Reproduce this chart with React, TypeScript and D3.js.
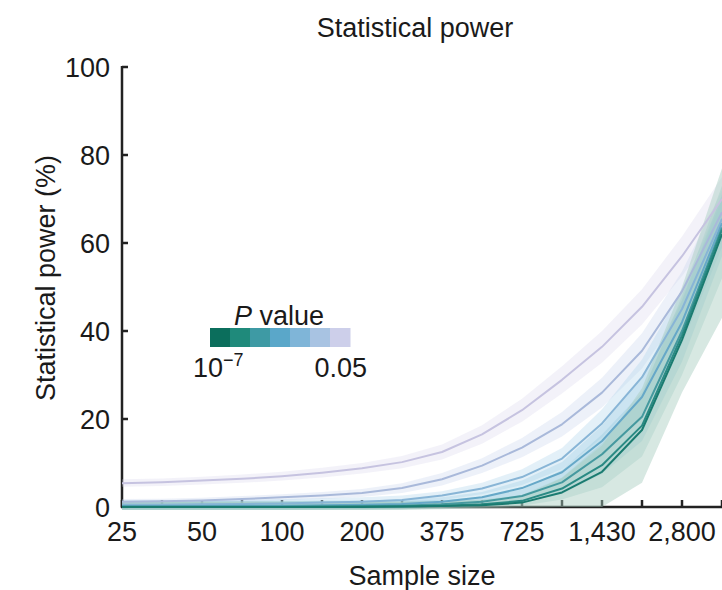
import React from 'react';
import * as d3 from 'd3';

const sampleSizes = [25, 35, 50, 70, 100, 140, 200, 280, 375, 525, 725, 1000, 1430, 2000, 2800, 4000];
const xTickValues = [25, 50, 100, 200, 375, 725, 1430, 2800];
const xTickLabels = ['25', '50', '100', '200', '375', '725', '1,430', '2,800'];
const yTicks = [0, 20, 40, 60, 80, 100];

const pLabels = ['0.05', '0.01', '1e-3', '1e-4', '1e-5', '1e-6', '1e-7'];
const lineColors = ['#c6c3e0', '#a9b9da', '#88b5d6', '#66a8c8', '#45999f', '#2a8a84', '#1a7b70'];
const legendColors = ['#0b6e5c', '#1f8a7b', '#3e9aa4', '#5aa7c9', '#7fb5d8', '#a8c3e2', '#cdcfea'];
const bandColors = ['#d6d4ea', '#c3d2ea', '#b0d4ea', '#9fcde6', '#94c8dc', '#9ccac6', '#a6cbbf'];
const bandOpacity = [0.3, 0.3, 0.35, 0.35, 0.35, 0.35, 0.45];

const p005 = [5.4, 5.6, 6.0, 6.4, 7.0, 7.8, 8.8, 10.2, 12.5, 16.5, 22.0, 28.9, 36.4, 45.5, 57.0, 70.0];
const p001 = [1.2, 1.3, 1.5, 1.8, 2.2, 2.6, 3.2, 4.3, 6.3, 9.4, 13.5, 18.8, 26.0, 35.5, 49.0, 67.0];
const p1e3 = [0.5, 0.5, 0.6, 0.7, 0.8, 1.0, 1.2, 1.6, 2.6, 4.2, 6.8, 11.0, 19.0, 29.5, 45.0, 65.5];
const p1e4 = [0.2, 0.2, 0.2, 0.3, 0.3, 0.4, 0.5, 0.7, 1.2, 2.2, 4.3, 7.9, 15.0, 25.0, 42.0, 64.5];
const p1e5 = [0.1, 0.1, 0.1, 0.1, 0.1, 0.2, 0.2, 0.3, 0.6, 1.2, 2.5, 5.6, 12.0, 20.5, 40.0, 63.5];
const p1e6 = [0, 0, 0, 0, 0, 0, 0.1, 0.1, 0.3, 0.6, 1.4, 4.2, 9.5, 18.5, 39.0, 63.0];
const p1e7 = [0, 0, 0, 0, 0, 0, 0, 0.1, 0.2, 0.4, 1.0, 3.3, 8.0, 17.5, 38.0, 62.0];

const p005Lo = [4.6, 4.8, 5.1, 5.5, 6.0, 6.7, 7.6, 8.8, 10.8, 14.4, 19.4, 25.8, 32.8, 41.5, 52.5, 65.0];
const p005Hi = [6.3, 6.5, 6.9, 7.4, 8.0, 8.9, 10.0, 11.6, 14.2, 18.6, 24.6, 32.0, 40.0, 49.5, 61.5, 75.0];
const p001Lo = [0.7, 0.8, 0.9, 1.1, 1.5, 1.8, 2.3, 3.2, 4.9, 7.7, 11.3, 16.0, 22.6, 31.5, 44.5, 62.0];
const p001Hi = [1.8, 1.9, 2.1, 2.5, 2.9, 3.4, 4.1, 5.4, 7.7, 11.1, 15.7, 21.6, 29.4, 39.5, 53.5, 72.0];
const p1e3Lo = [-0.5, -0.5, -0.4, -0.3, -0.2, 0, 0.2, 0.6, 1.6, 2.9, 5.0, 8.6, 15.8, 25.5, 40.5, 60.5];
const p1e3Hi = [1.5, 1.5, 1.6, 1.7, 1.8, 2.0, 2.2, 2.6, 3.6, 5.5, 8.6, 13.4, 22.2, 33.5, 49.5, 70.5];
const p1e4Lo = [-0.7, -0.7, -0.7, -0.6, -0.6, -0.5, -0.4, -0.2, 0.3, 1.1, 2.6, 5.6, 11.5, 20.5, 37.0, 59.0];
const p1e4Hi = [1.4, 1.4, 1.4, 1.4, 1.4, 1.5, 1.5, 1.7, 2.2, 3.4, 6.0, 10.2, 18.5, 29.5, 47.0, 70.0];
const p1e5Lo = [-0.7, -0.7, -0.7, -0.7, -0.7, -0.6, -0.6, -0.5, -0.2, 0.3, 1.1, 3.0, 7.5, 15.0, 33.0, 57.0];
const p1e5Hi = [1.3, 1.3, 1.3, 1.3, 1.3, 1.3, 1.3, 1.4, 1.6, 2.3, 4.0, 8.4, 16.5, 26.0, 47.0, 71.0];
const p1e6Lo = [-0.7, -0.7, -0.7, -0.7, -0.7, -0.7, -0.6, -0.6, -0.4, -0.1, 0.3, 1.7, 4.5, 11.5, 30.0, 52.0];
const p1e6Hi = [1.2, 1.2, 1.2, 1.2, 1.2, 1.2, 1.2, 1.2, 1.4, 1.7, 2.7, 6.7, 14.5, 25.5, 48.0, 73.0];
const p1e7Lo = [-0.7, -0.7, -0.7, -0.7, -0.7, -0.7, -0.7, -0.6, -0.5, -0.3, -0.1, 0, 0, 5.5, 26.0, 43.0];
const p1e7Hi = [1.2, 1.2, 1.2, 1.2, 1.2, 1.2, 1.2, 1.2, 1.3, 1.6, 2.4, 6.6, 14.0, 27.0, 50.0, 77.0];

const seriesValues = [p005, p001, p1e3, p1e4, p1e5, p1e6, p1e7];
const seriesLo = [p005Lo, p001Lo, p1e3Lo, p1e4Lo, p1e5Lo, p1e6Lo, p1e7Lo];
const seriesHi = [p005Hi, p001Hi, p1e3Hi, p1e4Hi, p1e5Hi, p1e6Hi, p1e7Hi];

const W = 722;
const H = 590;
const FONT = '"Liberation Sans", Arial, Helvetica, sans-serif';

export default function App() {
  const x = d3.scalePoint<string>().domain(sampleSizes.map(String)).range([122, 722]).padding(0);
  const y = d3.scaleLinear().domain([0, 100]).range([507, 67]);

  const line = d3
    .line<number>()
    .x((_, i) => x(String(sampleSizes[i])) as number)
    .y((d) => y(d));

  const area = (lo: number[], hi: number[]) =>
    d3
      .area<number>()
      .x((_, i) => x(String(sampleSizes[i])) as number)
      .y0((_, i) => y(lo[i]))
      .y1((_, i) => y(hi[i]))(lo);

  const legendX = d3.scaleBand<number>().domain(d3.range(legendColors.length)).range([210, 350]);

  return (
    <svg
      width={W}
      height={H}
      style={{ position: 'absolute', left: 0, top: 0, background: '#fff' }}
      fontFamily={FONT}
    >
      <rect x={0} y={0} width={W} height={H} fill="#fff" />
      <text x={415} y={37} fontSize={27} textAnchor="middle" fill="#1a1a1a">
        Statistical power
      </text>

      {/* axes */}
      <line x1={122} x2={122} y1={y(100) - 1} y2={y(0) + 1} stroke="#222" strokeWidth={2.5} />
      <line x1={121} x2={W} y1={y(0)} y2={y(0)} stroke="#222" strokeWidth={2.5} />
      {yTicks.map((t) => (
        <g key={t}>
          <line x1={122} x2={128} y1={y(t)} y2={y(t)} stroke="#222" strokeWidth={2.5} />
          <text x={110} y={y(t)} dy="0.36em" fontSize={27} textAnchor="end" fill="#1a1a1a">
            {t}
          </text>
        </g>
      ))}
      {sampleSizes.map((s) => (
        <line
          key={s}
          x1={x(String(s))}
          x2={x(String(s))}
          y1={y(0)}
          y2={y(0) - 7}
          stroke="#222"
          strokeWidth={2.5}
        />
      ))}
      {xTickValues.map((s, i) => (
        <text key={s} x={x(String(s))} y={541} fontSize={27} textAnchor="middle" fill="#1a1a1a">
          {xTickLabels[i]}
        </text>
      ))}
      <text x={422} y={585} fontSize={27} textAnchor="middle" fill="#1a1a1a">
        Sample size
      </text>
      <text
        transform={`translate(55, 278) rotate(-90)`}
        fontSize={27}
        textAnchor="middle"
        fill="#1a1a1a"
      >
        Statistical power (%)
      </text>

      {/* bands */}
      {seriesValues.map((_, k) => (
        <path
          key={'b' + pLabels[k]}
          d={area(seriesLo[k], seriesHi[k]) || ''}
          fill={bandColors[k]}
          fillOpacity={bandOpacity[k]}
          stroke="none"
        />
      ))}
      {/* lines */}
      {seriesValues.map((vals, k) => (
        <path
          key={'l' + pLabels[k]}
          d={line(vals) || ''}
          fill="none"
          stroke={lineColors[k]}
          strokeWidth={2}
          strokeLinejoin="round"
        />
      ))}

      {/* legend */}
      <text x={234} y={325} fontSize={27} fill="#1a1a1a">
        <tspan fontStyle="italic">P</tspan>
        <tspan> value</tspan>
      </text>
      {legendColors.map((c, i) => (
        <rect key={c} x={legendX(i)} y={328} width={legendX.bandwidth() + 0.5} height={19} fill={c} />
      ))}
      <text x={193} y={377} fontSize={27} fill="#1a1a1a">
        10
        <tspan fontSize={18} dy={-11}>
          −7
        </tspan>
      </text>
      <text x={367} y={377} fontSize={27} textAnchor="end" fill="#1a1a1a">
        0.05
      </text>
    </svg>
  );
}
